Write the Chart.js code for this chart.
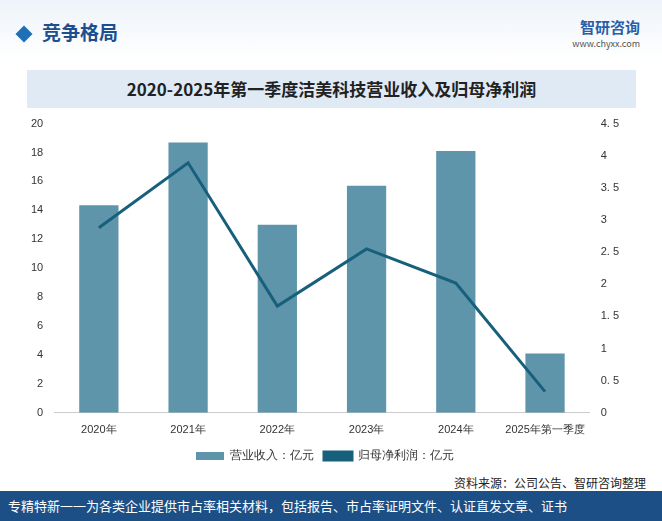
<!DOCTYPE html>
<html><head><meta charset="utf-8">
<script src="https://cdn.jsdelivr.net/npm/chart.js@4"></script>
<style>
body{margin:0;width:662px;height:521px;position:relative;background:#fff;font-family:"Noto Sans CJK SC",sans-serif;overflow:hidden}
#hdr{position:absolute;left:0;top:0;width:662px;height:60px;background:linear-gradient(#eef4fa,#fff)}
#hd{position:absolute;left:18px;top:18px;font-size:19px;color:#1d4e8f;font-weight:bold}
#hd span{display:inline-block;width:12px;height:12px;background:#1d6fb8;transform:rotate(45deg);margin-right:12px}
#logo{position:absolute;right:22px;top:16px;color:#2a5fa8;font-size:15px;font-weight:bold;text-align:right}
#logo small{display:block;font-size:9px;font-weight:normal;color:#555}
#title{position:absolute;left:27px;top:70px;width:609px;height:38px;background:#dfeaf5;text-align:center;line-height:38px;font-size:17px;font-weight:bold;color:#222;font-family:"Noto Sans CJK SC"}
#wrap{position:absolute;left:28px;top:114px;width:604px;height:358px}
#src{position:absolute;right:16px;top:474px;font-size:12px;color:#222}
#foot{position:absolute;left:0;top:491px;width:662px;height:30px;background:#1c4f86;color:#fff;font-size:13px;line-height:30px;padding-left:8px}
</style></head><body>
<div id="hdr"></div>
<div id="hd"><span></span>竞争格局</div>
<div id="logo">智研咨询<small>www.chyxx.com</small></div>
<div id="title">2020-2025年第一季度洁美科技营业收入及归母净利润</div>
<div id="wrap"><canvas id="c"></canvas></div>
<div id="src">资料来源：公司公告、智研咨询整理</div>
<div id="foot">专精特新一一为各类企业提供市占率相关材料，包括报告、市占率证明文件、认证直发文章、证书</div>
<script>
const categories=["2020年","2021年","2022年","2023年","2024年","2025年第一季度"];
const revenue=[14.35,18.7,13.0,15.7,18.1,4.1];
const profit=[2.88,3.89,1.66,2.55,2.02,0.33];
new Chart(document.getElementById('c'),{
 data:{labels:categories,datasets:[
  {type:'line',label:'归母净利润：亿元',data:profit,yAxisID:'y1',borderColor:'#17607c',backgroundColor:'#17607c',borderWidth:3,pointRadius:0,tension:0,order:0},
  {type:'bar',label:'营业收入：亿元',data:revenue,yAxisID:'y',backgroundColor:'#5f95aa',barPercentage:0.44,categoryPercentage:1,order:1}
 ]},
 options:{responsive:true,maintainAspectRatio:false,animation:false,
  layout:{padding:{left:0,right:10,top:4}},
  plugins:{legend:{position:'bottom',reverse:true,labels:{boxWidth:28,boxHeight:8,font:{size:12},color:'#333'}},tooltip:{enabled:false}},
  scales:{
   x:{grid:{display:false},ticks:{color:'#333',font:{size:11}},border:{color:'#ccc'}},
   y:{min:0,max:20,ticks:{stepSize:2,color:'#333',font:{size:11}},grid:{display:false},border:{display:false}},
   y1:{position:'right',min:0,max:4.5,ticks:{stepSize:0.5,color:'#333',font:{size:11},callback:v=>String(v).replace('.','. ')},grid:{display:false},border:{display:false}}
  }}
});
</script>
</body></html>
